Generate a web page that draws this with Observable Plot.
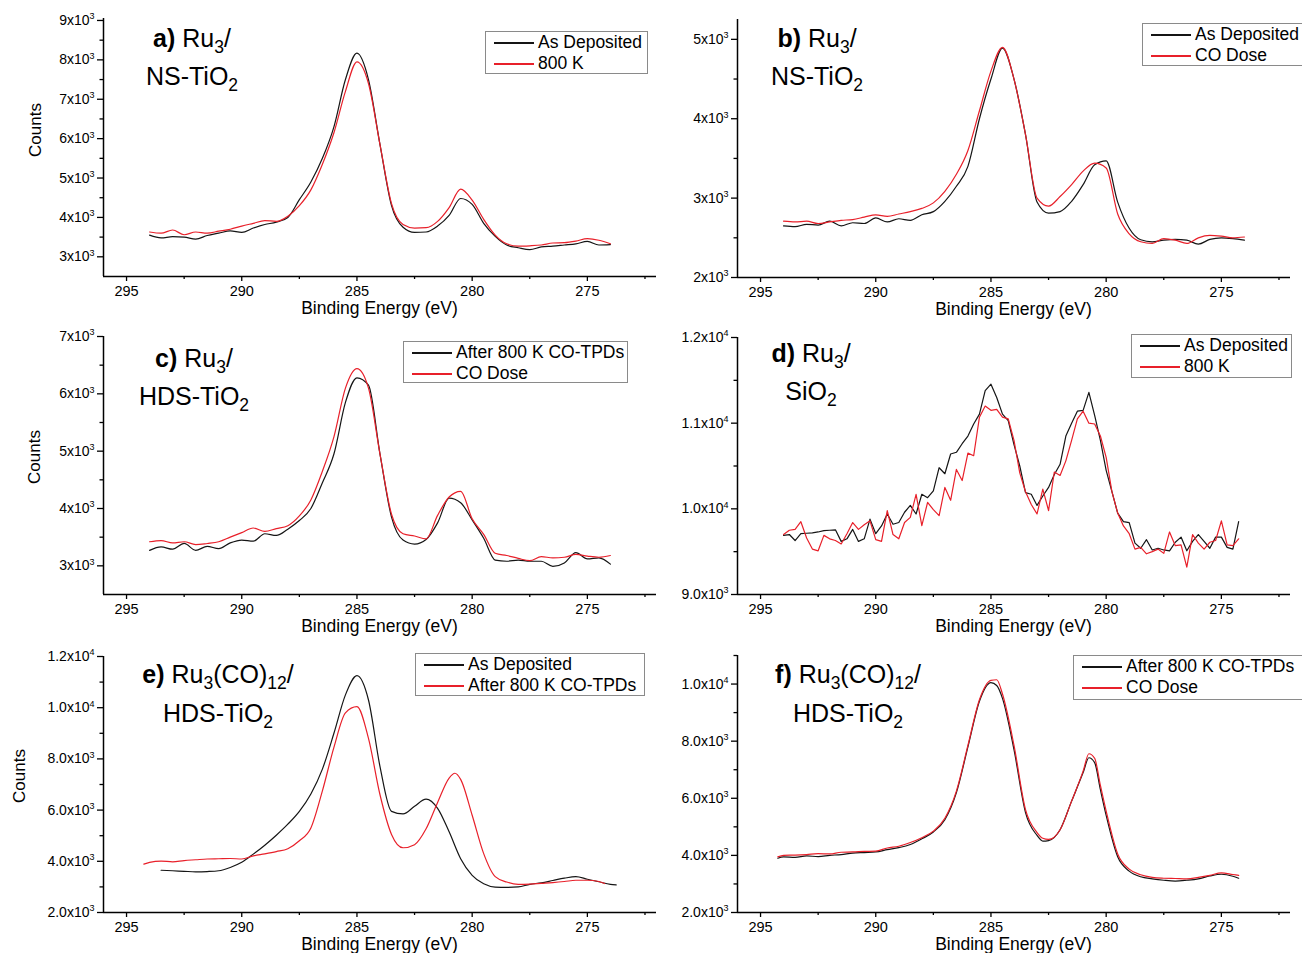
<!DOCTYPE html>
<html><head><meta charset="utf-8">
<script src="https://cdn.jsdelivr.net/npm/d3@7"></script>
<script src="https://cdn.jsdelivr.net/npm/@observablehq/plot@0.6"></script>
<style>
body{margin:0;background:#fff;}
#root{position:relative;width:1302px;height:953px;overflow:hidden;font-family:"Liberation Sans",Arial,sans-serif;color:#000;background:#fff;}
.abs{position:absolute;white-space:nowrap;line-height:1;}
.abs sub{font-size:0.7em;vertical-align:-0.32em;line-height:0;}
.lg{position:absolute;border:1px solid #8a8a8a;background:#fff;box-sizing:border-box;}
</style></head><body><div id="root"></div>
<script>
// ---------- data ----------
const energyDomain = [296, 272];
const xMajorTicks = [295, 290, 285, 280, 275];
const xMinorTicks = [292.5, 287.5, 282.5, 277.5, 272.5];

const energyHalf = [294, 293.5, 293, 292.5, 292, 291.5, 291, 290.5, 290, 289.5, 289, 288.5, 288, 287.5, 287, 286.5, 286, 285.5, 285, 284.5, 284, 283.5, 283, 282.5, 282, 281.5, 281, 280.5, 280, 279.5, 279, 278.5, 278, 277.5, 277, 276.5, 276, 275.5, 275, 274.5, 274];
const energyQuarter = [294, 293.75, 293.5, 293.25, 293, 292.75, 292.5, 292.25, 292, 291.75, 291.5, 291.25, 291, 290.75, 290.5, 290.25, 290, 289.75, 289.5, 289.25, 289, 288.75, 288.5, 288.25, 288, 287.75, 287.5, 287.25, 287, 286.75, 286.5, 286.25, 286, 285.75, 285.5, 285.25, 285, 284.75, 284.5, 284.25, 284, 283.75, 283.5, 283.25, 283, 282.75, 282.5, 282.25, 282, 281.75, 281.5, 281.25, 281, 280.75, 280.5, 280.25, 280, 279.75, 279.5, 279.25, 279, 278.75, 278.5, 278.25, 278, 277.75, 277.5, 277.25, 277, 276.75, 276.5, 276.25, 276, 275.75, 275.5, 275.25, 275, 274.75, 274.5, 274.25];
const energyEBlack = [293.5, 293, 292.5, 292, 291.5, 291, 290.5, 290, 289.5, 289, 288.5, 288, 287.5, 287, 286.5, 286, 285.5, 285, 284.5, 284, 283.5, 283, 282.5, 282, 281.5, 281, 280.5, 280, 279.5, 279, 278.5, 278, 277.5, 277, 276.5, 276, 275.5, 275, 274.5, 274, 273.75];
const energyERed = [294.25, 294, 293.5, 293, 292.5, 292, 291.5, 291, 290.5, 290, 289.5, 289, 288.5, 288, 287.5, 287, 286.5, 286, 285.5, 285, 284.5, 284, 283.5, 283, 282.5, 282, 281.5, 281, 280.75, 280.5, 280, 279.5, 279, 278.5, 278, 277.5, 277, 276.5, 276, 275.5, 275, 274.5, 274.25];
const energyF = [294.25, 294, 293.5, 293, 292.5, 292, 291.5, 291, 290.5, 290, 289.5, 289, 288.5, 288, 287.5, 287, 286.5, 286, 285.5, 285, 284.75, 284.5, 284, 283.5, 283, 282.75, 282.5, 282, 281.5, 281, 280.75, 280.5, 280.25, 280, 279.5, 279, 278.5, 278, 277.5, 277, 276.5, 276, 275.5, 275, 274.5, 274.25];

// a) Ru3 / NS-TiO2
const aAsDeposited = [3550,3480,3510,3500,3450,3540,3600,3660,3620,3730, 3820,3880,4000,4450,4900,5500,6300,7500,8170,7500, 5850,4300,3750,3620,3630,3780,4050,4480,4330,3850, 3520,3300,3230,3180,3250,3270,3300,3330,3390,3300,3310];
const a800K = [3630,3600,3680,3560,3630,3600,3650,3700,3780,3850, 3920,3900,4030,4300,4700,5350,6150,7200,7950,7400, 5850,4350,3820,3730,3740,3900,4250,4720,4440,3950, 3550,3330,3270,3280,3300,3350,3360,3400,3460,3420,3330];
// b) Ru3 / NS-TiO2
const bAsDeposited = [2650,2640,2670,2660,2710,2650,2690,2680,2750,2700, 2740,2720,2790,2830,2960,3150,3400,4000,4500,4890, 4500,3800,2950,2810,2830,2960,3170,3420,3470,2950, 2620,2475,2450,2470,2480,2470,2420,2480,2500,2490,2470];
const bCODose = [2710,2700,2710,2680,2700,2720,2730,2760,2790,2770, 2800,2830,2870,2940,3085,3300,3600,4100,4600,4900, 4500,3800,3000,2900,3020,3170,3340,3440,3380,2800, 2550,2450,2430,2490,2470,2430,2500,2530,2520,2500,2510];
// c) Ru3 / HDS-TiO2
const cAfterTPD = [3270,3330,3290,3390,3270,3340,3300,3400,3450,3430, 3560,3530,3640,3790,4000,4450,4950,5850,6280,6150, 4950,3850,3450,3380,3460,3750,4180,4100,3800,3480, 3100,3080,3100,3080,3080,2990,3050,3230,3120,3140,3030];
const cCODose = [3420,3440,3400,3420,3370,3390,3420,3500,3580,3660, 3600,3650,3700,3870,4150,4650,5250,6100,6440,6100, 4950,3900,3560,3520,3470,3880,4200,4300,3820,3550, 3220,3180,3130,3090,3160,3140,3150,3200,3170,3150,3180];
// d) Ru3 / SiO2
const dAsDeposited = [9690,9700,9630,9710,9715,9720,9730,9745,9750,9755, 9620,9650,9760,9620,9650,9880,9710,9800,9940,9820, 9840,9960,10040,9940,10170,10130,10210,10480,10410,10640, 10660,10760,10850,10990,11105,11380,11455,11300,11105,11030, 10750,10500,10190,10170,10040,10150,10250,10400,10520,10850, 11000,11140,11150,11360,11090,10800,10450,10200,9950,9850, 9840,9600,9540,9640,9520,9540,9520,9510,9610,9670, 9510,9620,9700,9620,9540,9670,9670,9550,9530,9850];
const d800K = [9700,9750,9760,9850,9660,9530,9510,9690,9650,9630, 9590,9710,9840,9760,9815,9860,9640,9620,9980,9700, 9650,9840,9900,10170,9805,10075,9990,9920,10250,10100, 10460,10330,10650,10620,11070,11200,11150,11160,11070,11050, 10800,10420,10200,10050,9940,10230,9980,10430,10390,10560, 10800,11050,11140,11000,10990,10850,10600,10200,9950,9800, 9710,9530,9550,9475,9500,9530,9480,9730,9570,9580, 9320,9700,9600,9530,9610,9630,9860,9580,9570,9650];
// e) Ru3(CO)12 / HDS-TiO2
const eAsDeposited = [3650,3630,3610,3590,3600,3630,3760,3960,4280,4630, 5020,5450,5950,6630,7600,9000,10500,11250,10300,7700, 5950,5850,6150,6430,6070,5150,4100,3450,3120,2990, 2980,3000,3100,3160,3250,3340,3400,3300,3200,3100,3080];
const eAfterTPD = [3890,3960,4010,3980,4030,4060,4090,4100,4110,4090, 4210,4290,4380,4490,4800,5300,6750,8450,9800,10040, 8800,6600,5050,4530,4650,5270,6300,7250,7440,7200, 5800,4300,3400,3190,3100,3110,3140,3170,3210,3260, 3260,3210,3130];
// f) Ru3(CO)12 / HDS-TiO2
const fAfterTPD = [3900,3950,3930,3980,3960,4000,4030,4080,4100,4120, 4200,4270,4380,4580,4820,5250,6200,7800,9400,10050, 9950,9500,7700,5500,4700,4500,4520,4900,5900,6900, 7420,7250,6300,5400,3950,3450,3250,3180,3130,3100, 3130,3180,3280,3340,3270,3200];
const fCODose = [3950,4000,4010,4030,4060,4050,4110,4120,4140,4150, 4260,4320,4450,4620,4850,5300,6250,7850,9450,10130, 10150,9650,7850,5600,4800,4600,4560,4900,5900,6950, 7560,7400,6450,5550,4050,3520,3320,3230,3200,3190, 3180,3230,3300,3390,3330,3300];

// ---------- helpers ----------
const root = document.getElementById("root");
const RED = "#e8202a", BLACK = "#151515";
const FONT = '"Liberation Sans", Arial, sans-serif';
const fmtInt = d => (d / 1000) + "x10^3";
const fmtSci = d => { const e = Math.floor(Math.log10(d) + 1e-9); return (d / Math.pow(10, e)).toFixed(1) + "x10^" + e; };

function txt(html, x, baseline, size, anchor) {
  const d = document.createElement("div");
  d.className = "abs";
  d.innerHTML = html;
  d.style.fontSize = size + "px";
  d.style.top = (baseline - 0.8465 * size) + "px";
  d.style.left = x + "px";
  if (anchor === "middle") d.style.transform = "translateX(-50%)";
  root.appendChild(d);
  return d;
}
function vtxt(s, cx, cy, size) {
  const d = document.createElement("div");
  d.className = "abs";
  d.textContent = s;
  d.style.fontSize = size + "px";
  d.style.left = cx + "px"; d.style.top = cy + "px";
  d.style.transform = "translate(-50%,-50%) rotate(-90deg)";
  root.appendChild(d);
}
function legend(left, top, width, height, items) {
  const box = document.createElement("div");
  box.className = "lg";
  Object.assign(box.style, {left: left + "px", top: top + "px", width: width + "px", height: height + "px"});
  root.appendChild(box);
  items.forEach((it, i) => {
    const cy = Math.round(top + 12 + i * 20.5);
    const ln = document.createElement("div");
    Object.assign(ln.style, {position: "absolute", left: (left + 9) + "px", top: (cy - 1) + "px", width: "40px", height: "1.5px", background: it.color});
    root.appendChild(ln);
    txt(it.label, left + 53, cy + 6.3, 17.5);
  });
}

function panel(p) {
  const mL = 80, mR = 4, mT = 5, mB = 28;
  const w = p.x1 - p.x0, h = p.y1 - p.y0;
  const blackData = p.bx.map((x, i) => ({x, y: p.by[i]}));
  const redData = p.rx.map((x, i) => ({x, y: p.ry[i]}));
  const svg = Plot.plot({
    width: w + mL + mR, height: h + mT + mB,
    marginLeft: mL, marginRight: mR, marginTop: mT, marginBottom: mB,
    style: {fontFamily: FONT, fontSize: "14.5px", background: "transparent", overflow: "visible", color: "#000"},
    x: {domain: energyDomain, label: null},
    y: {domain: p.ydom, label: null},
    marks: [
      Plot.axisX({ticks: xMajorTicks, tickSize: 5, tickPadding: 4, tickFormat: d => String(d), label: null, strokeWidth: 1.3, fontSize: 14.5}),
      Plot.axisX({ticks: xMinorTicks, tickSize: 3, tickFormat: () => "", label: null, strokeWidth: 1.3}),
      Plot.axisY({ticks: p.yMajor, tickSize: 6, tickPadding: 3, tickFormat: p.fmt, label: null, strokeWidth: 1.3, fontSize: 14}),
      Plot.axisY({ticks: p.yMinor, tickSize: 3.5, tickFormat: () => "", label: null, strokeWidth: 1.3}),
      Plot.line(blackData, {x: "x", y: "y", stroke: BLACK, strokeWidth: 1.2, curve: p.curve}),
      Plot.line(redData, {x: "x", y: "y", stroke: RED, strokeWidth: 1.2, curve: p.curve}),
      Plot.ruleX([energyDomain[0]], {stroke: "#000", strokeWidth: 1.5}),
      Plot.ruleY([p.ydom[0]], {stroke: "#000", strokeWidth: 1.5})
    ]
  });
  svg.style.position = "absolute";
  svg.style.left = (p.x0 - mL) + "px";
  svg.style.top = (p.y0 - mT) + "px";
  svg.querySelectorAll("text").forEach(t => {
    const s = t.textContent;
    if (s.includes("^")) {
      const [a, b] = s.split("^");
      t.textContent = a;
      const ts = document.createElementNS("http://www.w3.org/2000/svg", "tspan");
      ts.setAttribute("dy", "-5.5");
      ts.setAttribute("font-size", "9");
      ts.textContent = b;
      t.appendChild(ts);
      t.setAttribute("font-size", "14");
    }
  });
  root.appendChild(svg);

  txt("Binding Energy (eV)", (p.x0 + p.x1) / 2, p.y1 + 39, 17.5, "middle");
  if (p.counts) vtxt("Counts", p.counts[0], p.counts[1], 17);
  txt(p.title1, p.tcx, p.tb1, 25, "middle");
  txt(p.title2, p.tcx, p.tb2, 25, "middle");
  legend(p.lg[0], p.lg[1], p.lg[2], p.lg[3], [{label: p.names[0], color: BLACK}, {label: p.names[1], color: RED}]);
}

panel({x0: 103, x1: 656, y0: 18, y1: 276, ydom: [2500, 9050],
  yMajor: [3000, 4000, 5000, 6000, 7000, 8000, 9000], yMinor: [3500, 4500, 5500, 6500, 7500, 8500], fmt: fmtInt,
  bx: energyHalf, by: aAsDeposited, rx: energyHalf, ry: a800K, curve: "monotone-x",
  counts: [35, 130], title1: "<b>a)</b> Ru<sub>3</sub>/", title2: "NS-TiO<sub>2</sub>", tcx: 192, tb1: 47, tb2: 85,
  lg: [485, 31, 163, 43], names: ["As Deposited", "800 K"]});

panel({x0: 737, x1: 1290, y0: 19, y1: 277, ydom: [2000, 5250],
  yMajor: [2000, 3000, 4000, 5000], yMinor: [2500, 3500, 4500], fmt: fmtInt,
  bx: energyHalf, by: bAsDeposited, rx: energyHalf, ry: bCODose, curve: "monotone-x",
  counts: null, title1: "<b>b)</b> Ru<sub>3</sub>/", title2: "NS-TiO<sub>2</sub>", tcx: 817, tb1: 47, tb2: 85,
  lg: [1142, 23, 162, 43], names: ["As Deposited", "CO Dose"]});

panel({x0: 103, x1: 656, y0: 336, y1: 594, ydom: [2500, 7000],
  yMajor: [3000, 4000, 5000, 6000, 7000], yMinor: [3500, 4500, 5500, 6500], fmt: fmtInt,
  bx: energyHalf, by: cAfterTPD, rx: energyHalf, ry: cCODose, curve: "monotone-x",
  counts: [34, 457], title1: "<b>c)</b> Ru<sub>3</sub>/", title2: "HDS-TiO<sub>2</sub>", tcx: 194, tb1: 367, tb2: 405,
  lg: [403, 341, 225, 42], names: ["After 800 K CO-TPDs", "CO Dose"]});

panel({x0: 737, x1: 1290, y0: 337, y1: 594, ydom: [9000, 12000],
  yMajor: [9000, 10000, 11000, 12000], yMinor: [9500, 10500, 11500], fmt: fmtSci,
  bx: energyQuarter, by: dAsDeposited, rx: energyQuarter, ry: d800K, curve: "linear",
  counts: null, title1: "<b>d)</b> Ru<sub>3</sub>/", title2: "SiO<sub>2</sub>", tcx: 811, tb1: 362, tb2: 400,
  lg: [1131, 334, 161, 44], names: ["As Deposited", "800 K"]});

panel({x0: 103, x1: 656, y0: 656, y1: 912, ydom: [2000, 12000],
  yMajor: [2000, 4000, 6000, 8000, 10000, 12000], yMinor: [3000, 5000, 7000, 9000, 11000], fmt: fmtSci,
  bx: energyEBlack, by: eAsDeposited, rx: energyERed, ry: eAfterTPD, curve: "monotone-x",
  counts: [19, 776], title1: "<b>e)</b> Ru<sub>3</sub>(CO)<sub>12</sub>/", title2: "HDS-TiO<sub>2</sub>", tcx: 218, tb1: 683, tb2: 722,
  lg: [415, 653, 230, 43], names: ["As Deposited", "After 800 K CO-TPDs"]});

panel({x0: 737, x1: 1290, y0: 655, y1: 912, ydom: [2000, 11000],
  yMajor: [2000, 4000, 6000, 8000, 10000], yMinor: [3000, 5000, 7000, 9000, 11000], fmt: fmtSci,
  bx: energyF, by: fAfterTPD, rx: energyF, ry: fCODose, curve: "monotone-x",
  counts: null, title1: "<b>f)</b> Ru<sub>3</sub>(CO)<sub>12</sub>/", title2: "HDS-TiO<sub>2</sub>", tcx: 848, tb1: 683, tb2: 722,
  lg: [1073, 655, 231, 45], names: ["After 800 K CO-TPDs", "CO Dose"]});
</script></body></html>
